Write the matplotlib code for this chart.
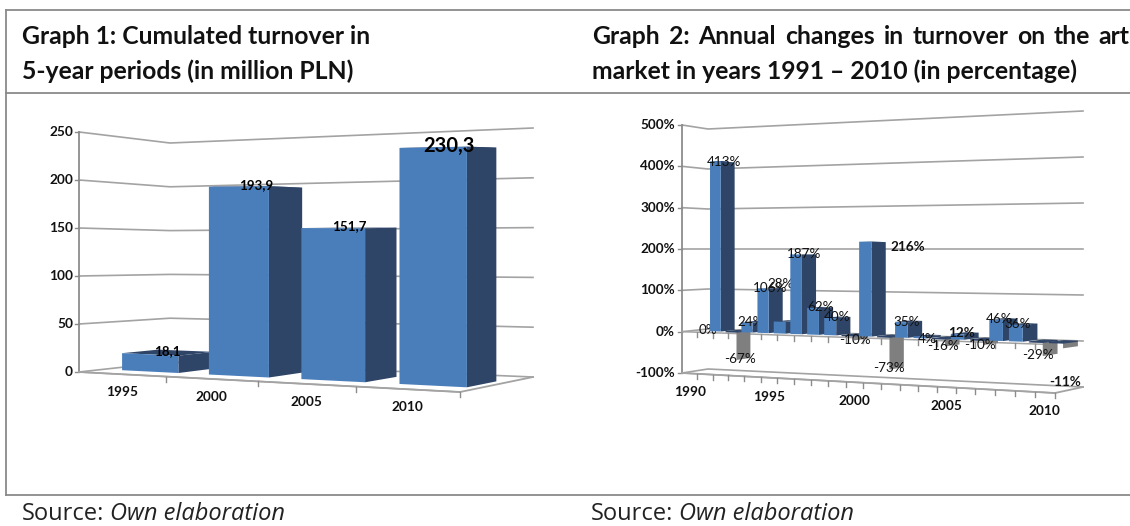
import matplotlib
matplotlib.use('Agg')
import matplotlib.pyplot as plt
from matplotlib.patches import Polygon

plt.rcParams['font.family'] = ['Lato', 'DejaVu Sans']

# graph 1
years1 = ['1995', '2000', '2005', '2010']
turnover = [18.1, 193.9, 151.7, 230.3]
labels1 = ['18,1', '193,9', '151,7', '230,3']
ticks1 = [0, 50, 100, 150, 200, 250]

# graph 2
years2 = list(range(1990, 2011))
changes = [0, 413, -67, 24, 106, 28, 187, 62, 40, -10, 216, -73, 35, 4, -16, 12, -10, 46, 36, -29, -11]
ticks2 = [-100, 0, 100, 200, 300, 400, 500]

BLUE = '#4a7ebb'
DARK = '#2f4568'
GREY = '#7f7f80'
GRID = '#a3a3a3'
AXIS = '#8c8c8c'

# pixel corners of the 3d box: fl, fr = front left/right, bl, br = back left/right
# xs are the same on top and bottom, ys are given for the lowest and highest value
box1 = dict(vmin=0, vmax=250, warp=0.12,
            x=dict(fl=79, fr=460, bl=170, br=533),
            low=dict(fl=372, fr=392, bl=362, br=377),
            high=dict(fl=132, fr=125, bl=143, br=128))
box2 = dict(vmin=-100, vmax=500, warp=0.15,
            x=dict(fl=682, fr=1055, bl=708, br=1083),
            low=dict(fl=373, fr=393, bl=369, br=387),
            high=dict(fl=125, fr=103, bl=129, br=111))


def corners(c, w, d):
    front = c['fl'] + (c['fr'] - c['fl']) * w
    back = c['bl'] + (c['br'] - c['bl']) * w
    return front + (back - front) * d


def project(box, u, v, d):
    w = u + box['warp'] * (u * u - u)
    t = (v - box['vmin']) / (box['vmax'] - box['vmin'])
    low = corners(box['low'], w, d)
    high = corners(box['high'], w, d)
    return corners(box['x'], w, d), low + (high - low) * t


def draw_box(ax, box, ticks, n, baseline):
    for v in ticks:
        pts = [project(box, 0, v, 0), project(box, 0, v, 1), project(box, 1, v, 1)]
        ax.plot(*zip(*pts), color=GRID, lw=1.2, zorder=1)
        x, y = project(box, 0, v, 0)
        ax.plot([x - 4, x], [y, y], color=AXIS, lw=1.0, zorder=1)
    top = project(box, 0, box['vmax'], 0)
    bottom = project(box, 0, box['vmin'], 0)
    ax.plot([top[0], bottom[0]], [top[1], bottom[1]], color=AXIS, lw=1.3, zorder=1)
    # floor outline
    v = box['vmin']
    pts = [project(box, 0, v, 0), project(box, 1, v, 0), project(box, 1, v, 1)]
    ax.plot(*zip(*pts), color=GRID, lw=1.3, zorder=1)
    for level in baseline:
        pts = [project(box, 0, level, 0), project(box, 1, level, 0)]
        ax.plot(*zip(*pts), color=GRID, lw=1.1, zorder=1)
        for i in range(1, n + 1):
            x, y = project(box, i / n, level, 0)
            ax.plot([x, x], [y, y + 5], color=AXIS, lw=1.0, zorder=1)


def draw_bar(ax, box, u0, u1, d0, d1, value, zorder):
    a = project(box, u0, 0, d0)
    b = project(box, u1, 0, d0)
    c = project(box, u1, value, d0)
    e = project(box, u0, value, d0)
    f = project(box, u1, 0, d1)
    g = project(box, u1, value, d1)
    h = project(box, u0, value, d1)
    if value < 0:
        # only the right face of a bar below zero shows, with a dark cap on zero
        ax.add_patch(Polygon([b, f, g, c], fc=GREY, ec='none', zorder=zorder))
        cap = [a, b, f, project(box, u0, 0, d1)]
        ax.add_patch(Polygon(cap, fc=DARK, ec=DARK, lw=0.8, zorder=zorder))
        return
    ax.add_patch(Polygon([e, c, g, h], fc=DARK, ec='none', zorder=zorder))
    ax.add_patch(Polygon([b, f, g, c], fc=DARK, ec='none', zorder=zorder))
    ax.add_patch(Polygon([a, b, c, e], fc=BLUE, ec='none', zorder=zorder))


fig = plt.figure(figsize=(11.3, 5.26), dpi=100)
ax = fig.add_axes([0, 0, 1, 1])
ax.set_xlim(0, 1130)
ax.set_ylim(526, 0)
ax.axis('off')

# table lines
for y in [10, 93, 495]:
    ax.plot([6, 1130], [y, y], color='#8a8a8a', lw=1.3, zorder=1)
ax.plot([6, 6], [10, 495], color='#8a8a8a', lw=1.3, zorder=1)

# titles
title_kw = dict(fontsize=17.85, fontweight='bold', color='#111111', va='center', ha='left')
ax.text(22, 37, 'Graph 1: Cumulated turnover in', **title_kw)
ax.text(22, 71, '5-year periods (in million PLN)', **title_kw)
title_words = ['Graph', '2:', 'Annual', 'changes', 'in', 'turnover', 'on', 'the', 'art']
word_x = [592, 669, 698, 785, 884, 913, 1017, 1054, 1098]
for word, x in zip(title_words, word_x):
    ax.text(x, 37, word, **title_kw)
ax.text(592, 71, 'market in years 1991 \u2013 2010 (in percentage)', **title_kw)

for x in [22, 591]:
    ax.text(x, 514, 'Source:', fontsize=17, family='Open Sans', color='#222222', va='center', ha='left')
    ax.text(x + 88, 514, 'Own elaboration', fontsize=17, family='Open Sans', style='italic',
            color='#222222', va='center', ha='left')

# graph 1
draw_box(ax, box1, ticks1, len(years1), [0])
for v in ticks1:
    x, y = project(box1, 0, v, 0)
    ax.text(x - 6, y, str(v), fontsize=9.8, fontweight='bold', ha='right', va='center', color='#111111')
n1 = len(years1)
for i, v in enumerate(turnover):
    u = (i + 0.55) / n1
    draw_bar(ax, box1, u - 0.082, u + 0.082, 0.27, 0.67, v, 3 + i)
for i, year in enumerate(years1):
    x, y = project(box1, (i + 0.5) / n1, 0, 0)
    ax.text(x, y + 18, year, fontsize=9.8, fontweight='bold', ha='center', va='center', color='#111111')
for i, v in enumerate(turnover):
    x, y = project(box1, (i + 0.6) / n1, v, 0.42)
    size = 14.5 if i == 3 else 9.6
    ax.text(x, y - 2, labels1[i], fontsize=size, fontweight='bold', ha='center', va='center',
            color='black', zorder=10)

# graph 2
draw_box(ax, box2, ticks2, len(years2), [0, -100])
for v in ticks2:
    x, y = project(box2, 0, v, 0)
    ax.text(x - 7, y, '%d%%' % v, fontsize=9.7, fontweight='bold', ha='right', va='center', color='#111111')
n2 = len(years2)
# data labels were moved by hand in the original, so keep where they sit
label_x = [708, 724, 740, 751, 770, 781, 804, 820, 837, 855, 908, 889, 907, 927, 943, 961, 980, 999, 1018, 1038, 1065]
label_y = [330, 162, 359, 322, 288, 284, 254, 307, 317, 340, 247, 368, 322, 339, 346, 333, 345, 319, 324, 355, 382]
bold_labels = [216, 12, -11]
for i, v in enumerate(changes):
    u = (i + 0.5) / n2
    if v != 0:
        draw_bar(ax, box2, u - 0.0165, u + 0.0165, 0.40, 0.93, v, 3 + i)
    ax.text(label_x[i], label_y[i], '%d%%' % v, fontsize=9.7, ha='center', va='center', color='#111111',
            fontweight='bold' if v in bold_labels else 'normal', zorder=3 + i)
for i, year in enumerate(years2):
    if year % 5 == 0:
        x, y = project(box2, (i + 0.5) / n2, -100, 0)
        ax.text(x, y + 19, str(year), fontsize=9.8, fontweight='bold', ha='center', va='center', color='#111111')

fig.savefig('out.png', dpi=100)
